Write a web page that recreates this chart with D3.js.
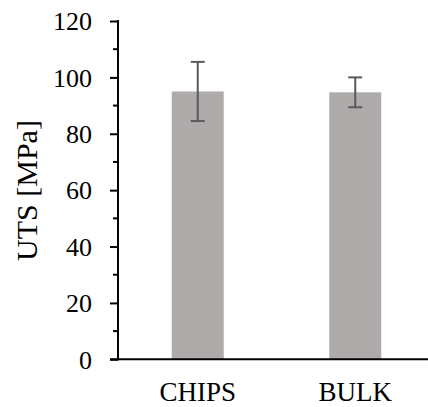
<!DOCTYPE html>
<html>
<head>
<meta charset="utf-8">
<script src="https://cdn.jsdelivr.net/npm/d3@7"></script>
<style>
  html, body { margin: 0; padding: 0; background: #fff; }
  svg { display: block; }
</style>
</head>
<body>
<svg id="chart" width="428" height="407"></svg>
<script>
// Ultimate tensile strength, mean and standard deviation per sample type
const categories = ["CHIPS", "BULK"];
const utsMean = [95.0, 94.7];
const utsStd = [10.5, 5.3];
const yTicks = [0, 20, 40, 60, 80, 100, 120];
const yMinorTicks = [10, 30, 50, 70, 90, 110];
const yLabel = "UTS [MPa]";

const FONT = "Liberation Serif, Tinos, DejaVu Serif, serif";

const svg = d3.select("#chart");
const W = 428;
const axisX = 118, y0 = 359.3, yTop = 21;

const y = d3.scaleLinear().domain([0, 120]).range([y0, yTop]);
const x = d3.scaleBand()
  .domain(categories)
  .range([axisX + 1, axisX + 1 + 315])
  .paddingInner(0.67)
  .paddingOuter(0.335);

// bars
svg.append("g").selectAll("rect")
  .data(categories)
  .join("rect")
  .attr("x", d => x(d))
  .attr("width", x.bandwidth())
  .attr("y", (d, i) => y(utsMean[i]))
  .attr("height", (d, i) => y0 - y(utsMean[i]))
  .attr("fill", "#aeabaa");

// error bars
const eb = svg.append("g").attr("stroke", "#5a5a5a").attr("stroke-width", 2);
categories.forEach((c, i) => {
  const cx = x(c) + x.bandwidth() / 2;
  const hi = y(utsMean[i] + utsStd[i]);
  const lo = y(utsMean[i] - utsStd[i]);
  eb.append("line").attr("x1", cx).attr("x2", cx).attr("y1", hi).attr("y2", lo);
  eb.append("line").attr("x1", cx - 7).attr("x2", cx + 7).attr("y1", hi).attr("y2", hi);
  eb.append("line").attr("x1", cx - 7).attr("x2", cx + 7).attr("y1", lo).attr("y2", lo);
});

// y axis with major ticks and labels
const yAxis = d3.axisLeft(y).tickValues(yTicks).tickSize(8).tickPadding(18).tickFormat(d3.format("d"));
const gy = svg.append("g").attr("transform", `translate(${axisX},0)`).call(yAxis);
gy.attr("font-family", null).attr("font-size", null);
gy.select(".domain").remove();
gy.selectAll(".tick line").attr("stroke", "#000").attr("stroke-width", 2);
gy.selectAll(".tick text")
  .style("font-family", FONT)
  .style("font-size", "26px")
  .attr("fill", "#000")
  .attr("dy", "0.34em");

// minor ticks
svg.append("g").selectAll("line")
  .data(yMinorTicks)
  .join("line")
  .attr("x1", axisX - 5).attr("x2", axisX)
  .attr("y1", d => y(d)).attr("y2", d => y(d))
  .attr("stroke", "#000").attr("stroke-width", 2);

// axis lines
svg.append("line")
  .attr("x1", axisX).attr("x2", axisX)
  .attr("y1", yTop - 1).attr("y2", y0 + 1)
  .attr("stroke", "#000").attr("stroke-width", 2);
svg.append("line")
  .attr("x1", axisX - 8).attr("x2", W)
  .attr("y1", y0).attr("y2", y0)
  .attr("stroke", "#000").attr("stroke-width", 2);

// category labels
svg.append("g").selectAll("text")
  .data(categories)
  .join("text")
  .attr("x", d => x(d) + x.bandwidth() / 2)
  .attr("y", 401)
  .attr("text-anchor", "middle")
  .style("font-family", FONT)
  .style("font-size", "27px")
  .text(d => d);

// y axis title
svg.append("text")
  .attr("transform", "translate(37,190.5) rotate(-90)")
  .attr("text-anchor", "middle")
  .style("font-family", FONT)
  .style("font-size", "30px")
  .text(yLabel);
</script>
</body>
</html>
